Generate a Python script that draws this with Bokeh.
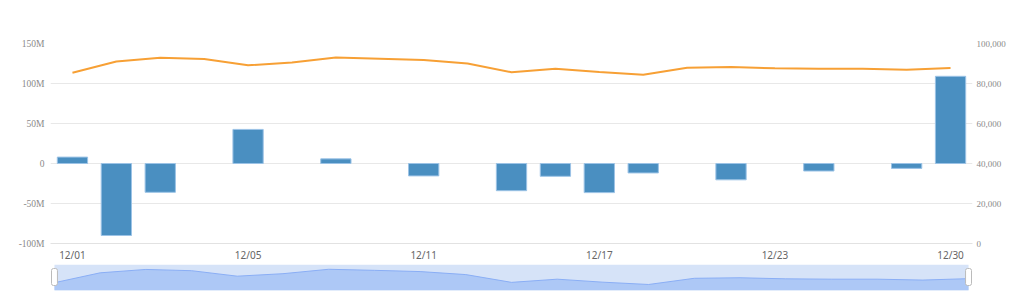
import math
from bokeh.plotting import figure
from bokeh.models import Range1d, LinearAxis, FixedTicker, NumeralTickFormatter, ColumnDataSource
from bokeh.layouts import column
from bokeh.embed import file_html
from bokeh.resources import INLINE
from bokeh.core.properties import value

categories = ["12/01", "12/02", "12/03", "12/04", "12/05", "12/08", "12/09", "12/10",
              "12/11", "12/12", "12/15", "12/16", "12/17", "12/18", "12/19", "12/22",
              "12/23", "12/24", "12/26", "12/29", "12/30"]
bar_values = [8.0e6, -90.0e6, -36.0e6, None, 42.6e6, None, 5.8e6, None,
              -15.5e6, None, -34.0e6, -16.0e6, -36.4e6, -11.8e6, None, -20.4e6,
              None, -9.4e6, None, -6.1e6, 109.0e6]
line_values = [85400, 91000, 92900, 92200, 89100, 90500, 93000, 92400, 91700, 90000,
               85600, 87400, 85700, 84400, 87900, 88200, 87600, 87400, 87400, 86900, 87700]
label_every = 4
left_ticks = [-100e6, -50e6, 0, 50e6, 100e6, 150e6]
left_labels = ["-100M", "-50M", "0", "50M", "100M", "150M"]
right_ticks = [0, 20000, 40000, 60000, 80000, 100000]

idx = list(range(len(categories)))
bars = [float("nan") if v is None else v for v in bar_values]
src = ColumnDataSource(dict(x=idx, cat=categories, bar=bars, line=line_values))

N = len(categories)
p = figure(width=1024, height=264, output_backend="svg", toolbar_location=None,
           x_range=Range1d(-0.5, N - 0.5), y_range=Range1d(-100e6, 150e6),
           min_border_left=50, min_border_right=52, min_border_top=43, min_border_bottom=20)
p.outline_line_color = None
p.background_fill_color = "white"
p.border_fill_color = "white"
p.extra_y_ranges = {"right": Range1d(0, 100000)}

p.vbar(x="x", top="bar", bottom=0, width=0.69, source=src,
       fill_color="#4a8fc1", line_color="#9cc3e6", line_width=1)
p.line(x="x", y="line", source=src, y_range_name="right",
       line_color="#f7a035", line_width=2)

def strip_ticks(ax):
    ax.major_tick_line_color = None
    ax.minor_tick_line_color = None
    ax.major_tick_out = 0
    ax.major_tick_in = 0
    ax.minor_tick_out = 0
    ax.minor_tick_in = 0

# x axis
xa = p.xaxis[0]
xa.ticker = FixedTicker(ticks=idx[::label_every])
xa.major_label_overrides = {i: categories[i] for i in idx[::label_every]}
strip_ticks(xa)
xa.axis_line_color = "#e2e2e2"
xa.major_label_text_font = "Noto Sans"
xa.major_label_text_font_size = "10px"
xa.major_label_text_color = "#666666"
xa.major_label_standoff = 4

ya = p.yaxis[0]
ya.ticker = FixedTicker(ticks=left_ticks)
ya.major_label_overrides = dict(zip(left_ticks, left_labels))
ya.axis_line_color = None
strip_ticks(ya)
ya.major_label_text_font = "Liberation Serif"
ya.major_label_text_font_size = "9.5px"
ya.major_label_text_color = "#8a8a8a"
ya.major_label_standoff = 6

ra = LinearAxis(y_range_name="right", ticker=FixedTicker(ticks=right_ticks),
                formatter=NumeralTickFormatter(format="0,0"))
ra.axis_line_color = None
strip_ticks(ra)
ra.major_label_text_font = "Liberation Serif"
ra.major_label_text_font_size = "9px"
ra.major_label_text_color = "#8a8a8a"
ra.major_label_standoff = 4
p.add_layout(ra, "right")

p.xgrid.grid_line_color = None
p.ygrid.grid_line_color = "#e8e8e8"
p.ygrid.ticker = FixedTicker(ticks=left_ticks)

# slider (data zoom) preview
k = (N - 1) / 922.0
s_lo, s_hi = 81000, 95700
s = figure(width=1024, height=32, output_backend="svg", toolbar_location=None,
           x_range=Range1d(-4 * k, N - 1 + 4 * k), y_range=Range1d(s_lo, s_hi),
           min_border_left=48, min_border_right=46, min_border_top=0, min_border_bottom=6)
s.axis.visible = False
s.grid.visible = False
s.outline_line_color = None
s.background_fill_color = "white"
s.border_fill_color = "white"
s.quad(left=0, right=N - 1, bottom=s_lo, top=s_hi, fill_color="#d6e3f8", line_color=None)
s.varea(x="x", y1=s_lo, y2="line", source=src, fill_color="#adc8f6")
s.line(x="x", y="line", source=src, line_color="#8aaef5", line_width=1)
hh = (s_hi - s_lo) / 26.0
s.quad(left=[-3 * k, N - 1 - 3 * k], right=[3 * k, N - 1 + 3 * k],
       bottom=s_hi - 21 * hh, top=s_hi - 4 * hh,
       fill_color="white", line_color="#bbbbbb", line_width=1, border_radius=2)

layout = column(p, s, spacing=0)
open("out.html", "w").write(file_html(layout, INLINE))
